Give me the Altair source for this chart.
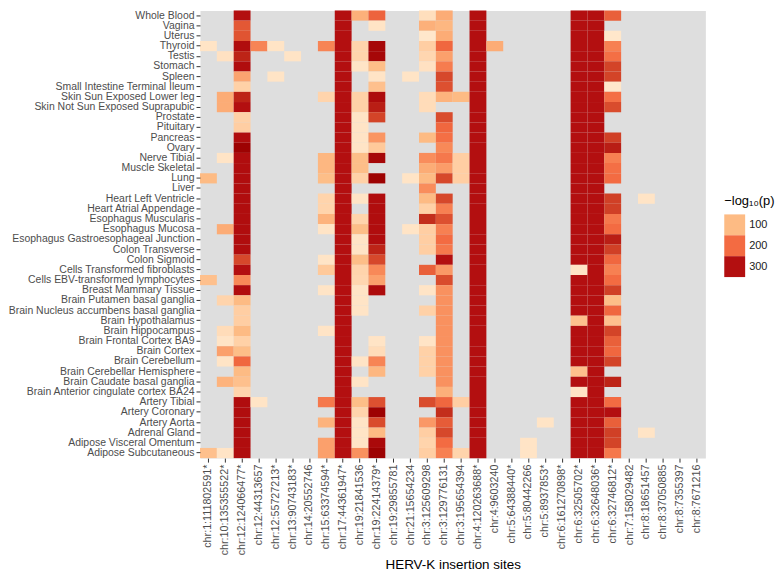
import altair as alt
import pandas as pd

tissues = [
    "Whole Blood", "Vagina", "Uterus", "Thyroid", "Testis", "Stomach", "Spleen",
    "Small Intestine Terminal Ileum", "Skin Sun Exposed Lower leg",
    "Skin Not Sun Exposed Suprapubic", "Prostate", "Pituitary", "Pancreas", "Ovary",
    "Nerve Tibial", "Muscle Skeletal", "Lung", "Liver", "Heart Left Ventricle",
    "Heart Atrial Appendage", "Esophagus Muscularis", "Esophagus Mucosa",
    "Esophagus Gastroesophageal Junction", "Colon Transverse", "Colon Sigmoid",
    "Cells Transformed fibroblasts", "Cells EBV-transformed lymphocytes",
    "Breast Mammary Tissue", "Brain Putamen basal ganglia",
    "Brain Nucleus accumbens basal ganglia", "Brain Hypothalamus", "Brain Hippocampus",
    "Brain Frontal Cortex BA9", "Brain Cortex", "Brain Cerebellum",
    "Brain Cerebellar Hemisphere", "Brain Caudate basal ganglia",
    "Brain Anterior cingulate cortex BA24", "Artery Tibial", "Artery Coronary",
    "Artery Aorta", "Adrenal Gland", "Adipose Visceral Omentum", "Adipose Subcutaneous",
]

sites = [
    "chr:1:111802591*", "chr:10:135355522*", "chr:12:124066477*", "chr:12:44313657",
    "chr:12:55727213*", "chr:13:90743183*", "chr:14:20552746", "chr:15:63374594*",
    "chr:17:44361947*", "chr:19:21841536", "chr:19:22414379*", "chr:19:29855781",
    "chr:21:15654234", "chr:3:125609298", "chr:3:129776131", "chr:3:195654394",
    "chr:4:120263688*", "chr:4:9603240", "chr:5:64388440*", "chr:5:80442266",
    "chr:5:8937853*", "chr:6:161270898*", "chr:6:32505702*", "chr:6:32648036*",
    "chr:6:32746812*", "chr:7:158029482", "chr:8:18651457", "chr:8:37050885",
    "chr:8:7355397", "chr:8:7671216",
]

_ = None
D = 300
# -log10(p) per tissue (rows, top to bottom) and insertion site (columns, left to right)
values = [
    [_, _, 300, _, _, _, _, _, D, 115, 210, _, _, 35, 120, _, D, _, _, _, _, _, D, D, 215, _, _, _, _, _],
    [_, _, 225, _, _, _, _, _, D, _, 25, _, _, 115, 105, _, D, _, _, _, _, _, D, D, _, _, _, _, _, _],
    [_, _, 230, _, _, _, _, _, D, _, _, _, _, 20, 120, _, D, _, _, _, _, _, D, D, 20, _, _, _, _, _],
    [25, _, 305, 170, 25, _, _, 170, D, 55, 320, _, _, 65, 205, _, D, 120, _, _, _, _, D, D, 175, _, _, _, _, _],
    [_, 30, 285, _, _, 25, _, _, D, 55, 320, _, _, 50, 135, _, D, _, _, _, _, _, D, D, 195, _, _, _, _, _],
    [_, _, 305, _, _, _, _, _, D, 25, 95, _, _, 30, 180, _, D, _, _, _, _, _, D, D, 250, _, _, _, _, _],
    [_, _, 130, _, 25, _, _, _, D, _, 25, _, 25, _, 245, _, D, _, _, _, _, _, D, D, 250, _, _, _, _, _],
    [_, _, 60, _, _, _, _, _, D, _, 90, _, _, _, 235, _, D, _, _, _, _, _, D, D, 20, _, _, _, _, _],
    [_, 120, 285, _, _, _, _, 55, D, 60, 310, _, _, 40, 110, 100, D, _, _, _, _, _, D, D, 195, _, _, _, _, _],
    [_, 120, 300, _, _, _, _, _, D, 60, 290, _, _, 40, _, _, D, _, _, _, _, _, D, D, 240, _, _, _, _, _],
    [_, _, 60, _, _, _, _, _, D, 25, 250, _, _, _, 240, _, D, _, _, _, _, _, D, D, _, _, _, _, _, _],
    [_, _, 65, _, _, _, _, _, D, 25, _, _, _, _, 205, _, D, _, _, _, _, _, D, D, _, _, _, _, _, _],
    [_, _, 305, _, _, _, _, _, D, 25, 150, _, _, 100, 195, _, D, _, _, _, _, _, D, D, 255, _, _, _, _, _],
    [_, _, 335, _, _, _, _, _, D, 25, 75, _, _, _, 165, _, D, _, _, _, _, _, D, D, 290, _, _, _, _, _],
    [_, 25, 305, _, _, _, _, 105, D, 95, 320, _, _, 160, 185, 65, D, _, _, _, _, _, D, D, 175, _, _, _, _, _],
    [_, _, 305, _, _, _, _, 105, D, 95, _, _, _, 120, 140, 65, D, _, _, _, _, _, D, D, 195, _, _, _, _, _],
    [100, _, 305, _, _, _, _, 95, D, 60, 335, _, 25, 100, 245, 65, D, _, _, _, _, _, D, D, 200, _, _, _, _, _],
    [_, _, 305, _, _, _, _, _, D, _, _, _, _, 160, _, _, D, _, _, _, _, _, D, D, _, _, _, _, _, _],
    [_, _, 305, _, _, _, _, 55, D, 25, 305, _, _, 100, 245, _, D, _, _, _, _, _, D, D, 255, _, 25, _, _, _],
    [_, _, 305, _, _, _, _, 55, D, _, 305, _, _, 60, 175, _, D, _, _, _, _, _, D, D, 255, _, _, _, _, _],
    [_, _, 305, _, _, _, _, 110, D, 55, 305, _, _, 275, 235, _, D, _, _, _, _, _, D, D, 185, _, _, _, _, _],
    [_, 120, 305, _, _, _, _, 25, D, 95, 305, _, 25, 65, 175, _, D, _, _, _, _, _, D, D, 200, _, _, _, _, _],
    [_, _, 305, _, _, _, _, _, D, 25, 305, _, _, 65, 200, _, D, _, _, _, _, _, D, D, 290, _, _, _, _, _],
    [_, _, 305, _, _, _, _, _, D, 25, 285, _, _, 65, 185, _, D, _, _, _, _, _, D, D, 255, _, _, _, _, _],
    [_, _, 245, _, _, _, _, 25, D, 95, 245, _, _, _, 300, _, D, _, _, _, _, _, D, D, 205, _, _, _, _, _],
    [_, _, 300, _, _, _, _, 75, D, 55, 165, _, _, 215, 145, _, D, _, _, _, _, _, 25, D, 175, _, _, _, _, _],
    [90, _, 165, _, _, _, _, _, D, 50, 135, _, _, _, 240, _, D, _, _, _, _, _, D, D, 200, _, _, _, _, _],
    [_, _, 305, _, _, _, _, 25, D, 25, 310, _, _, 25, 155, _, D, _, _, _, _, _, D, D, 255, _, _, _, _, _],
    [_, 55, 100, _, _, _, _, _, D, 25, _, _, _, _, 155, _, D, _, _, _, _, _, D, D, 95, _, _, _, _, _],
    [_, _, 65, _, _, _, _, _, D, 25, _, _, _, 60, 155, _, D, _, _, _, _, _, D, D, 205, _, _, _, _, _],
    [_, _, 65, _, _, _, _, _, D, _, _, _, _, _, 155, _, D, _, _, _, _, _, 90, D, 90, _, _, _, _, _],
    [_, 40, 100, _, _, _, _, 25, D, _, _, _, _, _, 155, _, D, _, _, _, _, _, D, D, 250, _, _, _, _, _],
    [_, 25, 60, _, _, _, _, _, D, _, 25, _, _, 25, 155, _, D, _, _, _, _, _, D, D, 215, _, _, _, _, _],
    [_, 135, 95, _, _, _, _, _, D, _, 40, _, _, 60, 155, _, D, _, _, _, _, _, D, D, 205, _, _, _, _, _],
    [_, 25, 205, _, _, _, _, _, D, 25, 170, _, _, 60, 155, _, D, _, _, _, _, _, D, D, 250, _, _, _, _, _],
    [_, _, 100, _, _, _, _, _, D, _, 105, _, _, 60, 155, _, D, _, _, _, _, _, 90, D, _, _, _, _, _, _],
    [_, 110, 90, _, _, _, _, _, D, 25, _, _, _, _, 155, _, D, _, _, _, _, _, D, D, 285, _, _, _, _, _],
    [_, _, 55, _, _, _, _, _, D, _, _, _, _, _, 115, _, D, _, _, _, _, _, 25, D, _, _, _, _, _, _],
    [_, _, 305, 25, _, _, _, 185, D, 95, 235, _, _, 240, 205, 65, D, _, _, _, _, _, D, D, 200, _, _, _, _, _],
    [_, _, 305, _, _, _, _, _, D, 55, 335, _, _, _, 275, _, D, _, _, _, _, _, D, D, 300, _, _, _, _, _],
    [_, _, 305, _, _, _, _, 110, D, 25, 240, _, _, 145, 220, _, D, _, _, _, 25, _, D, D, 215, _, _, _, _, _],
    [_, _, 305, _, _, _, _, _, D, 25, 100, _, _, 65, 245, _, D, _, _, _, _, _, D, D, 255, _, 25, _, _, _],
    [_, _, 305, _, _, _, _, 135, D, 25, 315, _, _, 55, 200, _, D, _, _, 25, _, _, D, D, 250, _, _, _, _, _],
    [90, 25, 305, _, _, _, _, 135, D, 155, 335, _, _, 65, 175, 55, D, _, _, 25, _, _, D, D, 185, _, _, _, _, _],
]

legend_values = [100, 200, 300]
color_domain = [0, 100, 200, 300, 340]
color_range = ["#fff2dd", "#fdbb84", "#f36b42", "#b30f10", "#9a0000"]

records = []
for t, row in zip(tissues, values):
    assert len(row) == len(sites), t
    for s, v in zip(sites, row):
        if v is not None:
            records.append({"tissue": t, "site": s, "value": v})
df = pd.DataFrame(records)

W, H = 508, 450
FONT = "Liberation Sans"

chart = (
    alt.Chart(df)
    .mark_rect()
    .encode(
        x=alt.X(
            "site:N",
            sort=sites,
            scale=alt.Scale(domain=sites, paddingInner=0, paddingOuter=0),
            axis=alt.Axis(
                title="HERV-K insertion sites",
                labelAngle=-90,
                labelLimit=0,
                labelFontSize=10.8,
                titlePadding=3,
            ),
        ),
        y=alt.Y(
            "tissue:N",
            sort=tissues,
            scale=alt.Scale(domain=tissues, paddingInner=0, paddingOuter=0),
            axis=alt.Axis(title=None, labelLimit=0, labelFontSize=10.5),
        ),
        color=alt.Color(
            "value:Q",
            scale=alt.Scale(domain=color_domain, range=color_range, interpolate="lab"),
            legend=alt.Legend(
                title="−log₁₀(p)",
                type="symbol",
                values=legend_values,
                symbolType="square",
                symbolSize=441,
                symbolStrokeWidth=0,
                symbolOpacity=1,
                rowPadding=0,
                labelOffset=4,
                orient="none",
                legendX=W + 19,
                legendY=186,
                titleFontSize=13,
                titleFontWeight="normal",
                titleColor="#000000",
                titlePadding=6,
                labelFontSize=11,
                labelColor="#222222",
                labelFont=FONT,
                titleFont=FONT,
            ),
        ),
    )
    .properties(width=W, height=H, padding={"left": 0, "top": 0, "right": 0, "bottom": 0})
    .configure_view(fill="#dedede", stroke="transparent")
    .configure_axis(
        labelFont=FONT,
        labelColor="#4d4d4d",
        titleFont=FONT,
        titleFontSize=13.5,
        titleFontWeight="normal",
        titleColor="#000000",
        tickColor="#333333",
        tickSize=4,
        labelPadding=2,
        domain=False,
        grid=False,
    )
)

chart.save("out.html", embed_options={"renderer": "svg", "actions": False})
